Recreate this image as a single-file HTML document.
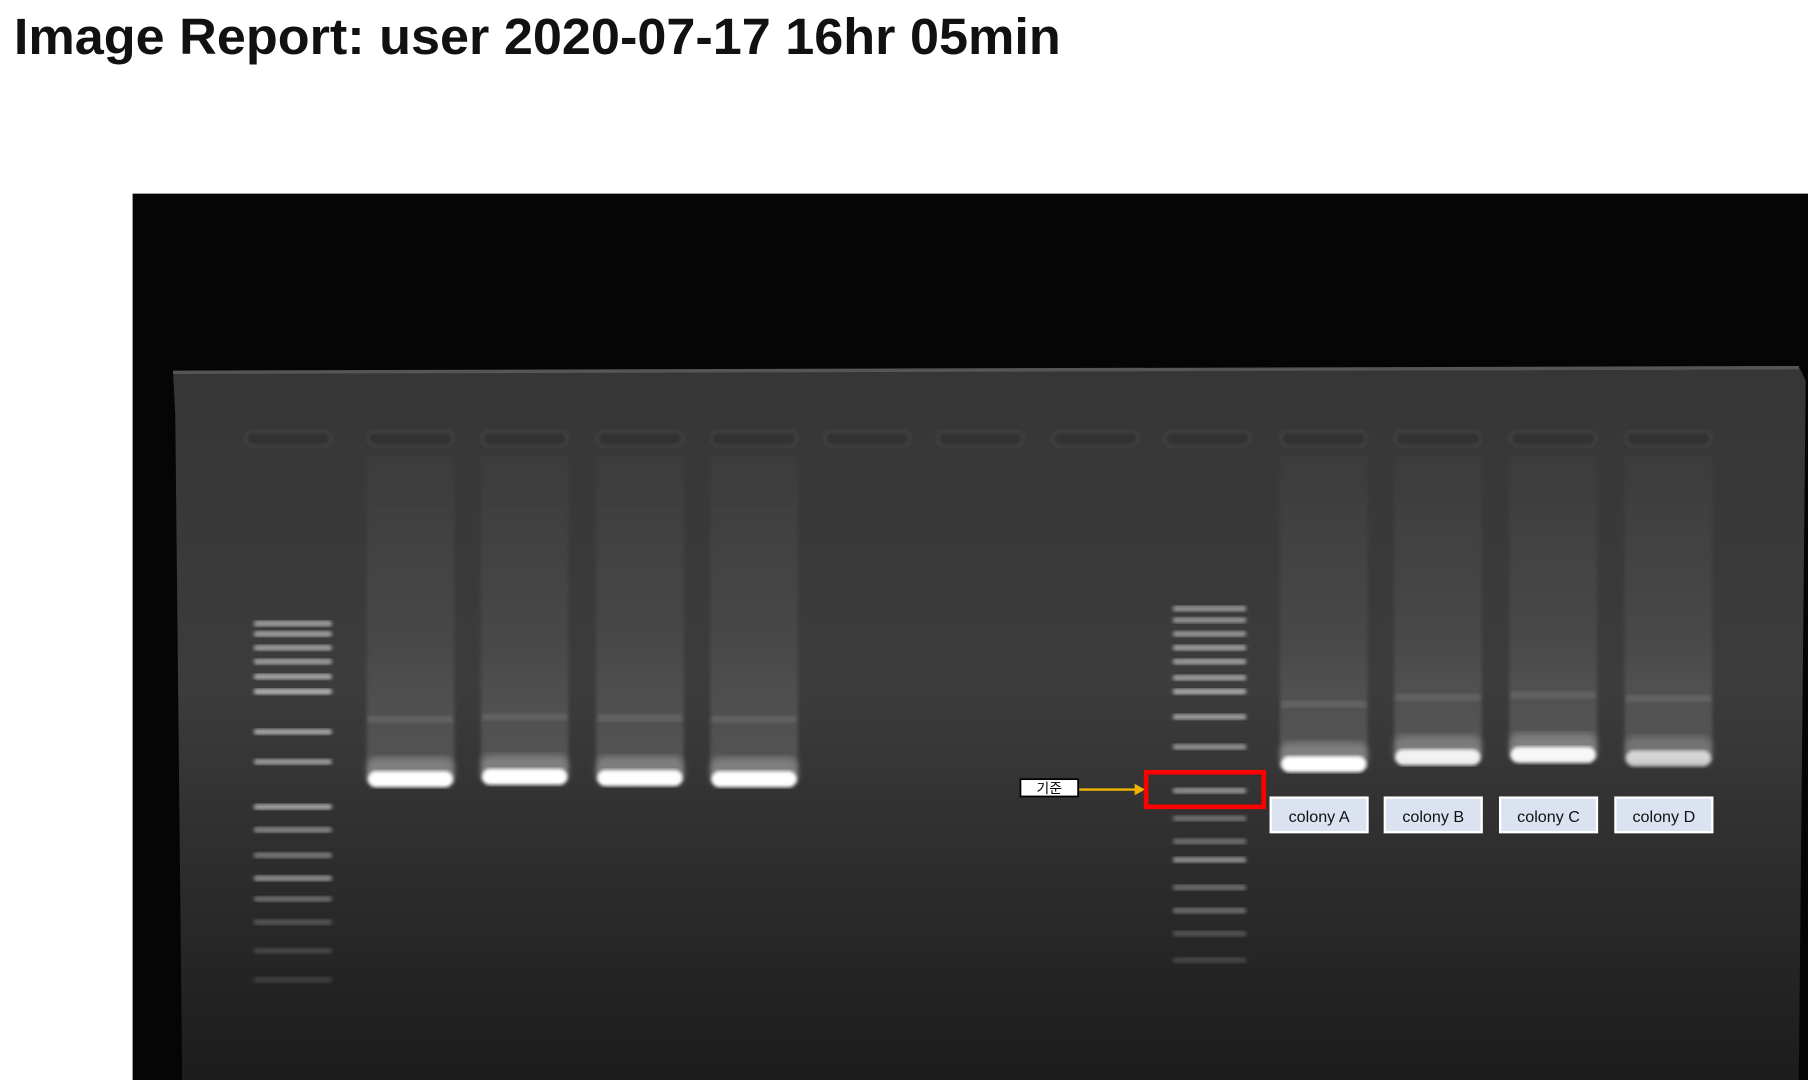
<!DOCTYPE html>
<html><head><meta charset="utf-8"><style>
html,body{margin:0;padding:0;background:#fff;width:1808px;height:1080px;overflow:hidden}
svg{display:block}
</style></head><body>
<svg id="g" width="1808" height="1080" viewBox="0 0 1568 937" preserveAspectRatio="none" xmlns="http://www.w3.org/2000/svg">
<defs>
<linearGradient id="gelg" x1="0" y1="0" x2="0" y2="1">
<stop offset="0" stop-color="#363636"/><stop offset="0.45" stop-color="#3c3c3c"/><stop offset="0.75" stop-color="#2a2a2a"/><stop offset="1" stop-color="#1c1c1c"/>
</linearGradient>
<linearGradient id="smear" x1="0" y1="0" x2="0" y2="1">
<stop offset="0" stop-color="#ffffff" stop-opacity="0.02"/><stop offset="0.6" stop-color="#ffffff" stop-opacity="0.07"/><stop offset="1" stop-color="#ffffff" stop-opacity="0.16"/>
</linearGradient>
<filter id="blur"><feGaussianBlur stdDeviation="1.6"/></filter>
<filter id="blur2"><feGaussianBlur stdDeviation="3"/></filter>
</defs>
<text x="12" y="47" font-family="Liberation Sans, sans-serif" font-weight="bold" font-size="44" textLength="908" lengthAdjust="spacingAndGlyphs" fill="#111">Image Report: user 2020-07-17 16hr 05min</text>
<rect x="115" y="168" width="1453" height="769" fill="#050505"/>
<path d="M150 322 L1560 318 L1566 330 L1560 937 L158 937 L152 360 Z" fill="url(#gelg)"/>
<line x1="150" y1="323" x2="1560" y2="319" stroke="#555" stroke-width="3"/>
<g id="marks"></g>
</svg>
<script>
var laneCenters=[250,356,455,555,654,752,850,950,1047,1148,1247,1347,1447];
var ladder1Bands=[541,550,562,574,587,600,635,661,700,720,742,762,780,800,825,850];
var ladder1Intensity=[0.5,0.5,0.5,0.5,0.55,0.6,0.55,0.5,0.55,0.4,0.35,0.45,0.3,0.2,0.15,0.12];
var ladder2Bands=[528,538,550,562,574,588,600,622,648,686,710,730,746,770,790,810,833];
var ladder2Intensity=[0.45,0.45,0.45,0.5,0.5,0.5,0.55,0.5,0.45,0.45,0.3,0.3,0.45,0.3,0.3,0.2,0.15];
var sampleLanes=[1,2,3,4,9,10,11,12];
var sampleBandY=[679,677,678,679,666,660,658,661];
var sampleBandIntensity=[1,1,1,1,1,0.9,0.95,0.7];
var colonyNames=["colony A","colony B","colony C","colony D"];
var colonyLanes=[9,10,11,12];
var NS="http://www.w3.org/2000/svg";
var g=document.getElementById('marks');
function mk(t,a){var e=document.createElementNS(NS,t);for(var k in a)e.setAttribute(k,a[k]);g.appendChild(e);return e;}
laneCenters.forEach(function(x,i){
 var e=mk('rect',{x:x-37,y:374,width:74,height:13,rx:6.5,fill:'#333',stroke:'#4a4a4a','stroke-width':1.5,filter:'url(#blur)'});
 
 
});
function ladder(cx,bands,inten,w,name){
 bands.forEach(function(y,i){
  var e=mk('rect',{x:cx-w/2,y:y-2.5,width:w,height:5,rx:2.5,fill:'#fff','fill-opacity':inten[i],filter:'url(#blur)'});
  
  
 });
}
ladder(laneCenters[0]+4,ladder1Bands,ladder1Intensity,68,'ladder-1');
ladder(laneCenters[8]+2,ladder2Bands,ladder2Intensity,64,'ladder-2');
sampleLanes.forEach(function(li,i){
 var cx=laneCenters[li],y=sampleBandY[i],op=sampleBandIntensity[i];
 var s=mk('rect',{x:cx-38,y:395,width:76,height:y-395,fill:'url(#smear)',filter:'url(#blur)'});
 
 
 var f=mk('rect',{x:cx-37,y:y-58,width:74,height:6,fill:'#fff','fill-opacity':0.1,filter:'url(#blur)'});
 
 
 var gl=mk('rect',{x:cx-38,y:y-22,width:76,height:22,rx:8,fill:'#fff','fill-opacity':0.25*op,filter:'url(#blur2)'});
 
 
 var b=mk('rect',{x:cx-37,y:y-10,width:74,height:14,rx:7,fill:'#fff','fill-opacity':op,filter:'url(#blur)'});
 
 
});
colonyLanes.forEach(function(li,i){
 var cx=laneCenters[li]-4;
 var r=mk('rect',{x:cx-42,y:692,width:84,height:30,fill:'#dbe3f1',stroke:'#fff','stroke-width':2});
 
 
 var t=mk('text',{x:cx,y:713,'text-anchor':'middle','font-family':'Liberation Sans, sans-serif','font-size':14,fill:'#111'});
 t.textContent=colonyNames[i];
 
 
});
var rb=mk('rect',{x:885,y:676,width:50,height:15,fill:'#fff',stroke:'#000','stroke-width':1.5});


var rt=mk('text',{x:910,y:688,'text-anchor':'middle','font-family':'Liberation Sans, Noto Sans CJK KR, sans-serif','font-size':12,fill:'#000'});
rt.textContent='기준';


var al=mk('line',{x1:936,y1:685,x2:985,y2:685,stroke:'#f0b400','stroke-width':2});


var ah=mk('polygon',{points:'984,680 993,685 984,690',fill:'#f0b400'});


var red=mk('rect',{x:994,y:670,width:102,height:30,fill:'none',stroke:'#ff0000','stroke-width':4});


</script>
</body></html>
